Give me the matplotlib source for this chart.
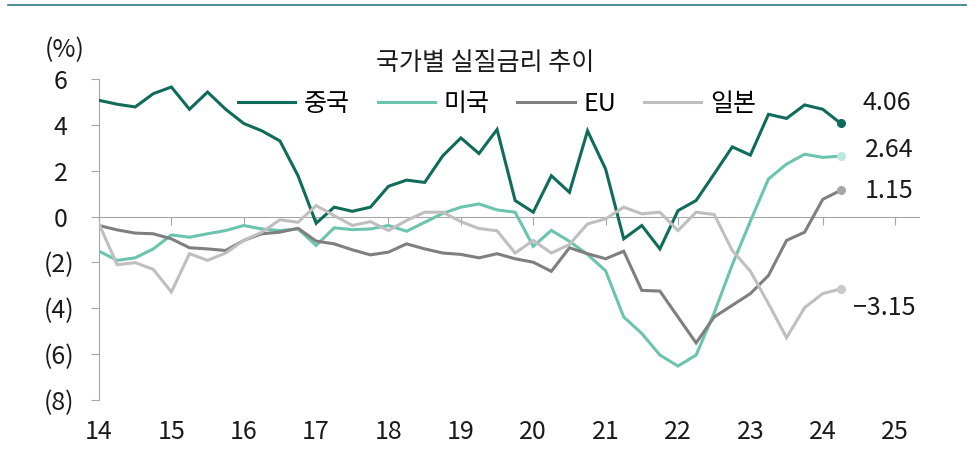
import numpy as np
import matplotlib
matplotlib.use("Agg")
import matplotlib.pyplot as plt
from matplotlib.lines import Line2D

plt.rcParams["font.family"] = ["Noto Sans CJK KR", "DejaVu Sans"]

# ── data: quarterly real interest rates, 2014 Q1 ~ 2024 Q2 ─────────────────
china = [5.07, 4.90, 4.78, 5.36, 5.65, 4.68, 5.43, 4.68, 4.06, 3.74,
         3.30, 1.78, -0.29, 0.41, 0.23, 0.41, 1.32, 1.59, 1.49, 2.65,
         3.43, 2.75, 3.80, 0.70, 0.19, 1.78, 1.06, 3.74, 2.07, -0.97,
         -0.39, -1.41, 0.26, 0.70, 1.86, 3.04, 2.68, 4.46, 4.28, 4.87,
         4.68, 4.06]
usa = [-1.51, -1.91, -1.80, -1.41, -0.80, -0.90, -0.75, -0.61, -0.39, -0.54,
       -0.61, -0.54, -1.26, -0.49, -0.57, -0.54, -0.39, -0.64, -0.25, 0.14,
       0.41, 0.55, 0.29, 0.19, -1.30, -0.60, -1.08, -1.65, -2.37, -4.38,
       -5.10, -6.04, -6.52, -6.04, -4.20, -2.10, -0.20, 1.64, 2.29, 2.72,
       2.58, 2.64]
eu = [-0.39, -0.58, -0.72, -0.75, -0.97, -1.36, -1.41, -1.48, -1.04, -0.75,
      -0.68, -0.51, -1.07, -1.19, -1.45, -1.67, -1.55, -1.19, -1.41, -1.59,
      -1.65, -1.80, -1.62, -1.84, -1.99, -2.39, -1.36, -1.62, -1.84, -1.51,
      -3.22, -3.25, -4.38, -5.51, -4.38, -3.87, -3.36, -2.57, -1.04, -0.68,
      0.75, 1.15]
japan = [-0.32, -2.10, -2.01, -2.30, -3.29, -1.62, -1.91, -1.59, -1.04, -0.68,
         -0.14, -0.25, 0.48, 0.04, -0.39, -0.22, -0.61, -0.17, 0.19, 0.19,
         -0.22, -0.52, -0.62, -1.59, -1.04, -1.59, -1.22, -0.32, -0.10, 0.41,
         0.12, 0.19, -0.61, 0.19, 0.09, -1.48, -2.38, -3.80, -5.28, -3.97,
         -3.36, -3.15]

series_names = ["중국", "미국", "EU", "일본"]
end_labels = ["4.06", "2.64", "1.15", "\u22123.15"]
year_ticks = list(range(14, 26))
y_ticks = [6, 4, 2, 0, -2, -4, -6, -8]
y_tick_labels = ["6 ", "4 ", "2 ", "0 ", "(2)", "(4)", "(6)", "(8)"]

LINE_COLORS = ["#0f6b5a", "#6cc4b0", "#7f7f7f", "#bfbfbf"]
DOT_COLORS = ["#0f6b5a", "#bfe5dc", "#a6a6a6", "#c9c9c9"]
# label offsets (pixels) relative to last point
LABEL_OFFSETS = [(22, 20), (24, 6), (24, -1), (12, -19)]
AXIS_GRAY = "#a6a6a6"
FS = 18

x = 14 + 0.25 * np.arange(len(china))

fig = plt.figure(figsize=(9.76, 4.5), dpi=100)
ax = fig.add_axes([99 / 976, 50 / 450, (919 - 99) / 976, (400 - 79) / 450])

all_series = [china, usa, eu, japan]
handles = []
for vals, name, lc, dc in zip(all_series, series_names, LINE_COLORS, DOT_COLORS):
    ax.plot(x, vals, color=lc, lw=2.2, solid_joinstyle="miter", zorder=3)
    ax.plot(x[-1], vals[-1], "o", color=dc, ms=5.5, zorder=4, clip_on=False)
    handles.append(Line2D([], [], color=lc, lw=2.2, label=name))

for vals, txt, off in zip(all_series, end_labels, LABEL_OFFSETS):
    ax.annotate(txt, xy=(x[-1], vals[-1]), xytext=off, textcoords="offset pixels",
                ha="left", va="center", fontsize=FS, color="#1a1a1a",
                annotation_clip=False)

ax.set_xlim(14, 25.33)
ax.set_ylim(-8, 6)

# axes styling
for s in ["top", "right"]:
    ax.spines[s].set_visible(False)
ax.spines["left"].set_color(AXIS_GRAY)
ax.spines["bottom"].set_color(AXIS_GRAY)
ax.spines["bottom"].set_position(("data", 0))
ax.spines["bottom"].set_zorder(1)

ax.set_yticks(y_ticks)
ax.set_yticklabels(y_tick_labels)
ax.tick_params(axis="y", direction="out", length=6, color=AXIS_GRAY,
               labelsize=FS, pad=12, labelcolor="#1a1a1a")
ax.set_xticks(year_ticks)
ax.tick_params(axis="x", direction="out", length=6, color=AXIS_GRAY,
               labelbottom=False)

sec = ax.secondary_xaxis(0.0)
sec.set_xticks(year_ticks)
sec.set_xticklabels([str(y) for y in year_ticks])
sec.tick_params(length=0, pad=14, labelsize=FS, labelcolor="#1a1a1a")
sec.spines["bottom"].set_visible(False)

# titles / legend
fig.text(65 / 976, 1 - 50 / 450, "(%)", ha="center", va="center", fontsize=FS,
         color="#1a1a1a")
fig.text(485 / 976, 1 - 63 / 450, "국가별 실질금리 추이", ha="center", va="center",
         fontsize=FS, color="#1a1a1a")
fig.legend(handles=handles, loc="center", bbox_to_anchor=(497 / 976, 1 - 104 / 450),
           ncol=4, frameon=False, fontsize=FS, handlelength=2.3,
           handletextpad=0.35, columnspacing=1.1)

# rule at the top of the page
fig.add_artist(Line2D([8 / 976, 966 / 976], [1 - 5 / 450, 1 - 5 / 450],
                      color="#2f7585", lw=1.2, transform=fig.transFigure))

fig.savefig("out.png", dpi=100)
